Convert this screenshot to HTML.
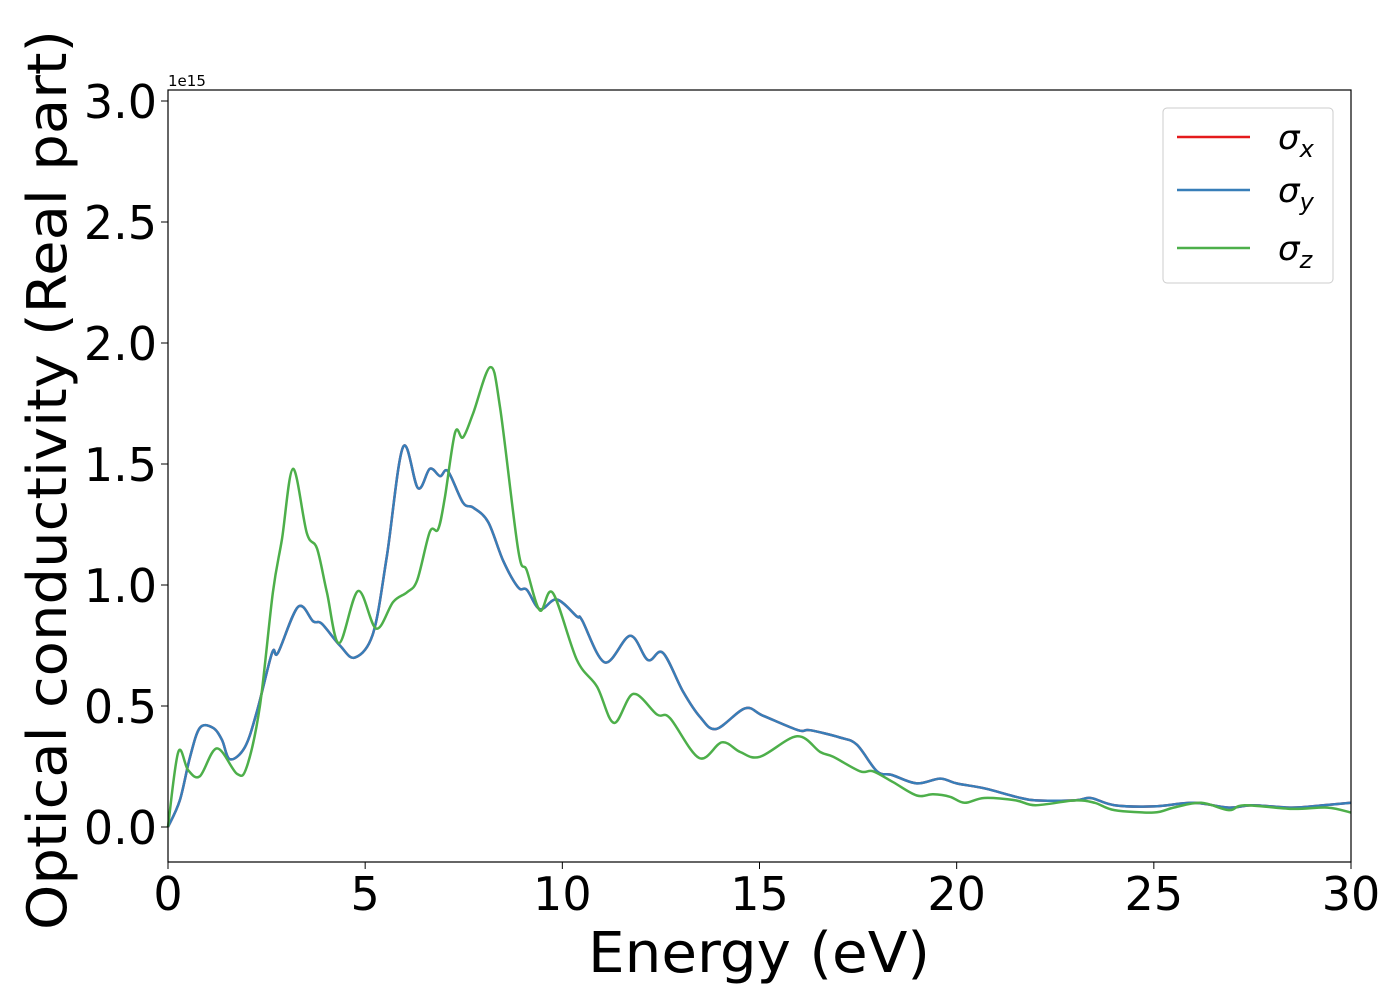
<!DOCTYPE html>
<html><head><meta charset="utf-8"><style>
html,body{margin:0;padding:0;background:#fff;}
svg{display:block;font-family:"DejaVu Sans","Liberation Sans",sans-serif;}
</style></head><body>
<svg id="chart" width="1400" height="1000">
<rect x="0" y="0" width="1400" height="1000" fill="#fff"/>
<g id="series"></g>
<rect x="168" y="90" width="1183" height="772" fill="none" stroke="#000" stroke-width="1.2"/>
<g id="xticks"></g><g id="yticks"></g>
<text x="168" y="86" font-size="15">1e15</text>
<text x="759" y="972" font-size="56" text-anchor="middle" textLength="342" lengthAdjust="spacingAndGlyphs">Energy (eV)</text>
<text transform="translate(66,480) rotate(-90)" font-size="54" text-anchor="middle" textLength="900" lengthAdjust="spacingAndGlyphs">Optical conductivity (Real part)</text>
<g>
<rect x="1163" y="108" width="170" height="175" rx="4" fill="#fff" stroke="#ccc" stroke-width="1"/>
<g><line x1="1177" y1="137" x2="1250" y2="137" stroke="#e41a1c" stroke-width="2.5"/><text x="1278" y="149" font-size="34" font-style="italic">σ<tspan font-size="24" dy="8">x</tspan></text></g>
<g><line x1="1177" y1="190" x2="1250" y2="190" stroke="#377eb8" stroke-width="2.5"/><text x="1278" y="202" font-size="34" font-style="italic">σ<tspan font-size="24" dy="8">y</tspan></text></g>
<g><line x1="1177" y1="248" x2="1250" y2="248" stroke="#4daf4a" stroke-width="2.5"/><text x="1278" y="260" font-size="34" font-style="italic">σ<tspan font-size="24" dy="8">z</tspan></text></g>
</g>
</svg>
<script>
const xTicks=[0,5,10,15,20,25,30];
const yTicks=[0.0,0.5,1.0,1.5,2.0,2.5,3.0];
const energyXY=[0,0.30,0.56,0.81,1.14,1.37,1.57,1.95,2.26,2.64,2.79,3.30,3.68,3.90,4.36,4.74,5.20,5.55,5.96,6.34,6.64,6.90,7.10,7.48,7.74,8.12,8.50,8.88,9.10,9.43,9.86,10.37,10.50,11.08,11.72,12.17,12.55,13.06,13.49,13.90,14.63,15.09,15.98,16.28,17.04,17.47,17.98,18.36,18.99,19.58,20.0,20.7,21.5,22,23,23.4,24,25,26,26.9,27.5,28.5,29.3,30];
const sigmaXY=[0,0.11,0.29,0.41,0.41,0.36,0.28,0.33,0.48,0.72,0.72,0.91,0.85,0.84,0.75,0.70,0.80,1.12,1.57,1.40,1.48,1.45,1.47,1.34,1.32,1.26,1.10,0.99,0.98,0.90,0.94,0.87,0.855,0.68,0.79,0.69,0.72,0.56,0.455,0.405,0.49,0.46,0.40,0.40,0.37,0.34,0.23,0.215,0.18,0.20,0.18,0.16,0.125,0.11,0.11,0.12,0.09,0.085,0.10,0.08,0.09,0.08,0.09,0.10];
const energyZ=[0,0.26,0.51,0.81,1.24,1.75,2.0,2.33,2.66,2.89,3.17,3.52,3.78,4.03,4.34,4.82,5.28,5.71,6.06,6.32,6.64,6.85,7.02,7.28,7.48,7.74,8.17,8.42,8.88,9.10,9.43,9.76,10.37,10.88,11.31,11.80,12.40,12.73,13.47,14.05,14.51,15.01,15.95,16.54,16.87,17.55,17.88,18.39,18.99,19.40,19.83,20.2,20.7,21.5,22,23,23.5,24,25,25.5,26.2,26.9,27.3,28.5,29.4,30];
const sigmaZ=[0,0.31,0.235,0.21,0.325,0.22,0.25,0.50,0.97,1.19,1.48,1.215,1.15,0.97,0.76,0.975,0.82,0.93,0.97,1.02,1.22,1.23,1.36,1.63,1.61,1.71,1.90,1.735,1.145,1.06,0.895,0.967,0.69,0.58,0.43,0.55,0.465,0.45,0.285,0.35,0.31,0.29,0.375,0.31,0.29,0.23,0.23,0.185,0.13,0.135,0.125,0.10,0.12,0.11,0.09,0.11,0.10,0.07,0.06,0.08,0.10,0.07,0.09,0.075,0.08,0.06];
const NS="http://www.w3.org/2000/svg";
const X0=168,X1=1351,XMAX=30,Y0=827,YPER=242;
function xs(e){return X0+(X1-X0)*e/XMAX;}
function ys(v){return Y0-YPER*v;}
function pathFor(ex,vs){
  const p=ex.map((e,i)=>[xs(e),ys(vs[i])]);
  let d="M"+p[0][0].toFixed(1)+","+p[0][1].toFixed(1);
  for(let i=0;i<p.length-1;i++){
    const a=p[Math.max(0,i-1)],b=p[i],c=p[i+1],n=p[Math.min(p.length-1,i+2)];
    const c1=[b[0]+(c[0]-a[0])/6,b[1]+(c[1]-a[1])/6],c2=[c[0]-(n[0]-b[0])/6,c[1]-(n[1]-b[1])/6];
    d+=" C"+c1[0].toFixed(1)+","+c1[1].toFixed(1)+" "+c2[0].toFixed(1)+","+c2[1].toFixed(1)+" "+c[0].toFixed(1)+","+c[1].toFixed(1);
  }
  return d;
}
const g=document.getElementById("series");
[["sigma-x-line",energyXY,sigmaXY,"#e41a1c"],["sigma-y-line",energyXY,sigmaXY,"#377eb8"],["sigma-z-line",energyZ,sigmaZ,"#4daf4a"]].forEach(s=>{
  const el=document.createElementNS(NS,"path");
  el.setAttribute("d",pathFor(s[1],s[2]));
  el.setAttribute("fill","none");el.setAttribute("stroke",s[3]);el.setAttribute("stroke-width","2.5");
  
  
  g.appendChild(el);
});
const xt=document.getElementById("xticks");
xTicks.forEach(t=>{
  const l=document.createElementNS(NS,"line");
  l.setAttribute("x1",xs(t));l.setAttribute("x2",xs(t));l.setAttribute("y1",862);l.setAttribute("y2",869);l.setAttribute("stroke","#000");
  
  
  xt.appendChild(l);
  const tx=document.createElementNS(NS,"text");
  tx.setAttribute("x",xs(t));tx.setAttribute("y",910);tx.setAttribute("font-size","46");tx.setAttribute("text-anchor","middle");
  tx.textContent=t;
  
  
  xt.appendChild(tx);
});
const yt=document.getElementById("yticks");
yTicks.forEach(t=>{
  const l=document.createElementNS(NS,"line");
  l.setAttribute("x1",161);l.setAttribute("x2",168);l.setAttribute("y1",ys(t));l.setAttribute("y2",ys(t));l.setAttribute("stroke","#000");
  
  
  yt.appendChild(l);
  const tx=document.createElementNS(NS,"text");
  tx.setAttribute("x",157);tx.setAttribute("y",ys(t)+17);tx.setAttribute("font-size","46");tx.setAttribute("text-anchor","end");
  tx.textContent=t.toFixed(1);
  
  
  yt.appendChild(tx);
});
</script>
</body></html>
